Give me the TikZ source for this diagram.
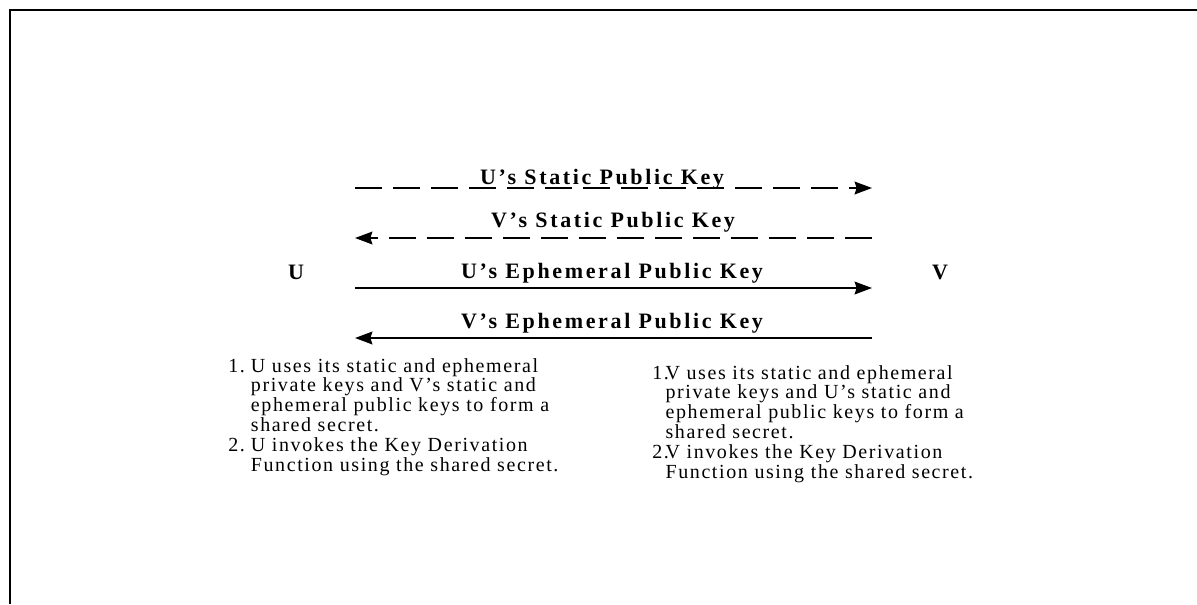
\documentclass[tikz,border=0pt]{standalone}
\usepackage{fontspec}
\setmainfont{Liberation Serif}
\newfontfamily\labelfont[LetterSpace=12]{Liberation Serif}
\newfontfamily\bodyfont[LetterSpace=8]{Liberation Serif}
\usetikzlibrary{arrows.meta}

\tikzset{
  msg/.style={line width=1.6pt, -{Stealth[length=13pt, width=9.5pt, inset=1.5pt]}},
  dashmsg/.style={msg, dash pattern=on 20pt off 8.5pt},
  keylabel/.style={font=\labelfont\bfseries\fontsize{16.5pt}{19pt}\selectfont, inner sep=0pt},
  party/.style={font=\labelfont\bfseries\fontsize{16.5pt}{19pt}\selectfont, inner sep=0pt},
  steps/.style={font=\bodyfont\fontsize{15pt}{14.8pt}\selectfont, inner sep=0pt, anchor=base west, align=left}
}

\begin{document}
\begin{tikzpicture}[x=0.75pt, y=-0.75pt]
  \useasboundingbox (0,0) rectangle (1197,604);

  % outer frame (top and left edges only)
  \draw[line width=1.5pt] (10,604) -- (10,10) -- (1197,10);

  % the two parties
  \node[party] (U) at (296,272) {U};
  \node[party] (V) at (940,272) {V};

  % message end points
  \coordinate (uS) at (355,188);  \coordinate (vS) at (872,188);
  \coordinate (uT) at (355,238);  \coordinate (vT) at (872,238);
  \coordinate (uE) at (355,288);  \coordinate (vE) at (872,288);
  \coordinate (uF) at (355,338);  \coordinate (vF) at (872,338);

  % static public keys (dashed), ephemeral public keys (solid)
  \draw[dashmsg] (uS) -- (vS);
  \draw[dashmsg] (vT) -- (uT);
  \draw[msg] (uE) -- (vE);
  \draw[msg] (vF) -- (uF);

  \node[keylabel] (lS) at (602,179) {U’s Static Public Key};
  \node[keylabel] (lT) at (613,222) {V’s Static Public Key};
  \node[keylabel] (lE) at (612,273) {U’s Ephemeral Public Key};
  \node[keylabel] (lF) at (612,323) {V’s Ephemeral Public Key};

  % what each party does with the keys
  \node[steps] (stepsU) at (228,372) {%
    \begin{tabular}[t]{@{}p{17pt}@{}l@{}}
      1. & U uses its static and ephemeral\\
         & private keys and V’s static and\\
         & ephemeral public keys to form a\\
         & shared secret.\\
      2. & U invokes the Key Derivation\\
         & Function using the shared secret.
    \end{tabular}};
  \node[steps] (stepsV) at (652,379) {%
    \begin{tabular}[t]{@{}p{10pt}@{}l@{}}
      1.\kern-1pt & V uses its static and ephemeral\\
         & private keys and U’s static and\\
         & ephemeral public keys to form a\\
         & shared secret.\\
      2.\kern-1pt & V invokes the Key Derivation\\
         & Function using the shared secret.
    \end{tabular}};
\end{tikzpicture}
\end{document}
